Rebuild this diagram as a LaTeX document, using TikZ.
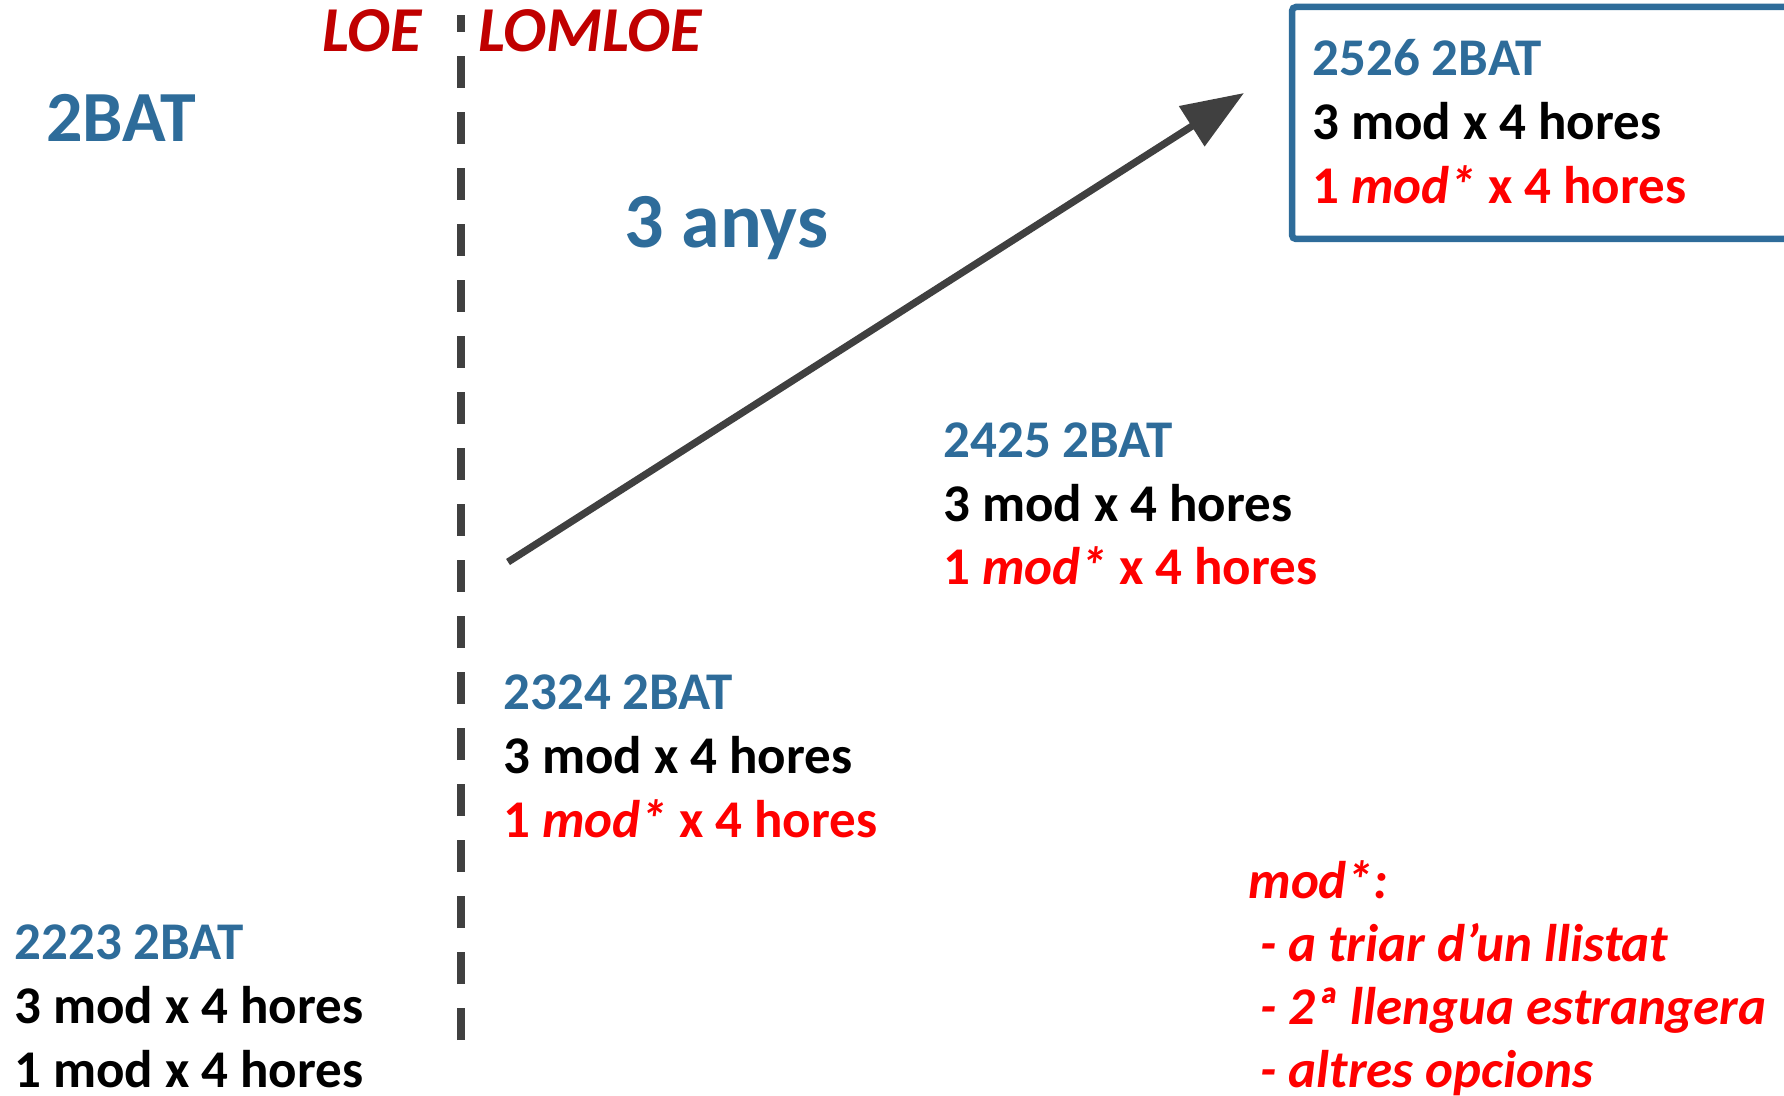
\documentclass[tikz,border=0pt]{standalone}
\usepackage{fontspec}
\setmainfont{Carlito}
\usetikzlibrary{shapes,arrows,arrows.meta}

\definecolor{batblue}{RGB}{46,108,154}
\definecolor{lawred}{RGB}{192,0,0}
\definecolor{modred}{RGB}{255,0,0}
\definecolor{arrowgray}{RGB}{64,64,64}

\begin{document}
\begin{tikzpicture}[x=0.5pt, y=-0.5pt]
    % Define block styles
    \tikzstyle{block} = [anchor=base west, inner sep=0pt, align=left,
        font=\fontsize{26.5}{32}\selectfont\bfseries]
    \tikzstyle{law} = [anchor=base west, inner sep=0pt, text=lawred,
        font=\fontsize{32}{38}\selectfont\bfseries\itshape]
    \tikzstyle{big} = [anchor=base west, inner sep=0pt, text=batblue,
        font=\fontsize{36}{42}\selectfont\bfseries]
    \tikzstyle{line} = [draw=arrowgray, line width=3.6pt,
        -{Triangle[length=31pt, width=23pt]}]
    \tikzstyle{divider} = [draw=arrowgray, line width=3.75pt,
        dash pattern=on 16pt off 12pt]
    \tikzstyle{frame} = [draw=batblue, line width=3.25pt, rounded corners=2pt]

    \useasboundingbox (0,0) rectangle (1784,1096);
    \clip (0,0) rectangle (1784,1096);

    % LOE / LOMLOE split
    \coordinate (divBottom) at (461,1040);
    \coordinate (divTop) at (461,15);
    \path [divider] (divBottom) -- (divTop);
    \node [law] (loeLabel) at (322,52) {LOE};
    \node [law] (lomloeLabel) at (478,52) {LOMLOE};

    % Titles
    \node [big] (titleBat) at (46,142) {2BAT};
    \node [big, font=\fontsize{39}{45}\selectfont\bfseries] (yearsLabel) at (624,248) {3 anys};

    % Courses (anchored on the last line)
    \node [block] (bat2223) at (14,1087) {{\color{batblue}2223 2BAT}\\3 mod x 4 hores\\1 mod x 4 hores};
    \node [block] (bat2324) at (503,837) {{\color{batblue}2324 2BAT}\\3 mod x 4 hores\\{\color{modred}1 \textit{mod*} x 4 hores}};
    \node [block] (bat2425) at (943,585) {{\color{batblue}2425 2BAT}\\3 mod x 4 hores\\{\color{modred}1 \textit{mod*} x 4 hores}};
    \draw [frame] (1292,7) rectangle (1840,239);
    \node [block] (bat2526) at (1312,204) {{\color{batblue}2526 2BAT}\\3 mod x 4 hores\\{\color{modred}1 \textit{mod*} x 4 hores}};

    % Timeline arrow
    \coordinate (arrowStart) at (508,562);
    \coordinate (arrowEnd) at (1244,93);
    \path [line] (arrowStart) -- (arrowEnd);

    % Note on mod*
    \node [block, text=modred, font=\fontsize{26.5}{31.5}\selectfont\bfseries\itshape] (modNote) at (1248,1087)
        {mod*:\\\ - a triar d’un llistat\\\ - 2ª llengua estrangera\\\ - altres opcions};

\end{tikzpicture}
\end{document}
